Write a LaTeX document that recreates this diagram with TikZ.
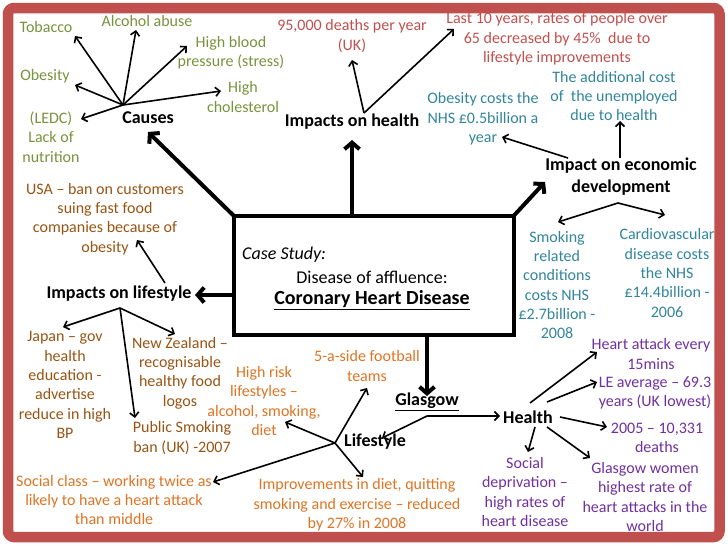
\documentclass[tikz,border=0pt]{standalone}
\usepackage{fontspec}
\setmainfont{Carlito}
\usetikzlibrary{arrows.meta}
\definecolor{framered}{HTML}{C0504D}
\definecolor{cgreen}{HTML}{77933C}
\definecolor{cred}{HTML}{C0504D}
\definecolor{cteal}{HTML}{31859C}
\definecolor{cbrown}{HTML}{985413}
\definecolor{corange}{HTML}{DE7424}
\definecolor{cpurple}{HTML}{7030A0}
\begin{document}
\begin{tikzpicture}[x=1pt,y=-1pt,
  txt/.style={align=center, inner sep=0pt, font=\fontsize{16}{19.3}\selectfont},
  hd/.style={txt, font=\fontsize{18}{22}\selectfont\bfseries},
  thin/.style={line width=1.6pt, -{Straight Barb[length=4.5pt,width=9pt]}},
  thick/.style={line width=4pt, -{Straight Barb[length=6.5pt,width=15pt]}}]
\useasboundingbox (0,0) rectangle (728,546);

% central box
\node[draw, line width=4pt, outer sep=0pt, inner sep=0pt, minimum width=280.5pt, minimum height=119pt] (cs) at (373.75,275) {};
\node[txt, anchor=west, font=\fontsize{18}{22}\selectfont\itshape] (cst) at (242,255) {Case Study:};
\node[txt, font=\fontsize{18}{22}\selectfont] (doa) at (372,277) {Disease of affluence:};
\node[txt, font=\fontsize{20}{24}\selectfont\bfseries] (chd) at (372,300) {\underline{Coronary Heart Disease}};

% causes
\begin{scope}[every node/.append style={text=cgreen}]
\node[txt] (tob) at (46,27) {Tobacco};
\node[txt] (alc) at (147,21) {Alcohol abuse};
\node[txt] (hbp) at (231,53) {High blood\\pressure (stress)};
\node[txt] (obs) at (45,76) {Obesity};
\node[txt] (chol) at (243,97) {High\\cholesterol};
\node[txt] (ledc) at (51,137) {(LEDC)\\Lack of\\nutrition};
\end{scope}
\node[hd] (causes) at (148,118) {Causes};

% impacts on health
\begin{scope}[every node/.append style={text=cred}]
\node[txt] (d95) at (352,36) {95,000 deaths per year\\(UK)};
\node[txt] (last) at (557,39) {Last 10 years, rates of people over\\65 decreased by 45\%\ \ due to\\lifestyle improvements};
\end{scope}
\node[hd] (ioh) at (352,122) {Impacts on health};

% economic
\begin{scope}[every node/.append style={text=cteal}]
\node[txt] (ocost) at (483,119) {Obesity costs the\\NHS £0.5billion a\\year};
\node[txt] (addc) at (614,96) {The additional cost\\of\ \ the unemployed\\due to health};
\node[txt] (smok) at (557,285) {Smoking\\related\\conditions\\costs NHS\\£2.7billion -\\2008};
\node[txt] (cardio) at (667,273) {Cardiovascular\\disease costs\\the NHS\\£14.4billion -\\2006};
\end{scope}
\node[hd] (ied) at (621,177) {Impact on economic\\development};

% impacts on lifestyle
\begin{scope}[every node/.append style={text=cbrown}]
\node[txt] (usa) at (105,219) {USA – ban on customers\\suing fast food\\companies because of\\obesity};
\node[txt] (japan) at (65,385) {Japan – gov\\health\\education -\\advertise\\reduce in high\\BP};
\node[txt] (nz) at (180,373) {New Zealand –\\recognisable\\healthy food\\logos};
\node[txt] (psb) at (182,438) {Public Smoking\\ban (UK) -2007};
\end{scope}
\node[hd] (iol) at (119,294) {Impacts on lifestyle};

% Glasgow lifestyle
\begin{scope}[every node/.append style={text=corange}]
\node[txt] (five) at (367,366) {5-a-side football\\teams};
\node[txt] (hrisk) at (264,401) {High risk\\lifestyles –\\alcohol, smoking,\\diet};
\node[txt] (impr) at (357,505) {Improvements in diet, quitting\\smoking and exercise – reduced\\by 27\% in 2008};
\node[txt] (social) at (114,500) {Social class – working twice as\\likely to have a heart attack\\than middle};
\end{scope}
\node[hd] (life) at (375,442) {Lifestyle};
\node[hd] (glas) at (427,402) {\underline{Glasgow}};

% Glasgow health
\begin{scope}[every node/.append style={text=cpurple}]
\node[txt] (hae) at (651,354) {Heart attack every\\15mins};
\node[txt] (le) at (655,393) {LE average – 69.3\\years (UK lowest)};
\node[txt] (d2005) at (657,438) {2005 – 10,331\\deaths};
\node[txt] (gw) at (645,497) {Glasgow women\\highest rate of\\heart attacks in the\\world};
\node[txt] (sd) at (525,492) {Social\\deprivation –\\high rates of\\heart disease};
\end{scope}
\node[hd] (health) at (528,417) {Health};

% coordinates: hubs and tips
\coordinate (hc) at (123,105);
\coordinate (ttob) at (75,36);
\coordinate (talc) at (136,30);
\coordinate (thbp) at (187,46);
\coordinate (tchol) at (221,91);
\coordinate (tobs) at (75,85);
\coordinate (tledc) at (81,119);
\coordinate (hh) at (364,113);
\coordinate (td95) at (352,60);
\coordinate (tlast) at (454,29);
\coordinate (he1) at (568,158);
\coordinate (tocost) at (502,137);
\coordinate (he2) at (620,158);
\coordinate (taddc) at (620,121);
\coordinate (he3) at (618,203);
\coordinate (tsmok) at (558,222);
\coordinate (tcardio) at (665,215);
\coordinate (hl1) at (165,283);
\coordinate (tusa) at (137,240);
\coordinate (hl2) at (120,308);
\coordinate (tjapan) at (63,327);
\coordinate (tnz) at (175,334);
\coordinate (tpsb) at (135,418);
\coordinate (hg) at (427,416);
\coordinate (thealth) at (500,416);
\coordinate (tlife) at (382,438);
\coordinate (hlf) at (335,443);
\coordinate (tfive) at (367,388);
\coordinate (thrisk) at (285,422);
\coordinate (timpr) at (363,477);
\coordinate (tsocial) at (213,482);
\coordinate (hh1) at (530,403);
\coordinate (thae) at (597,352);
\coordinate (hh2) at (547,402);
\coordinate (tle) at (597,382);
\coordinate (hh3) at (560,417);
\coordinate (td2005) at (607,427);
\coordinate (hh4) at (547,427);
\coordinate (tgw) at (590,458);
\coordinate (hh5) at (535,427);
\coordinate (tsd) at (528,452);
\coordinate (tcauses) at (148,132);
\coordinate (tioh) at (352,140);
\coordinate (tied) at (545,182);
\coordinate (tiol) at (195,295);
\coordinate (tglas) at (427,396);

% thick arrows
\draw[thick] (cs.north west) -- (tcauses);
\draw[thick] (cs.north -| tioh) -- (tioh);
\draw[thick] (cs.north east) -- (tied);
\draw[thick] (cs.west |- tiol) -- (tiol);
\draw[thick] (cs.south -| tglas) -- (tglas);

% thin arrows
\foreach \t in {ttob,talc,thbp,tchol,tobs,tledc} \draw[thin] (hc) -- (\t);
\draw[thin] (hh) -- (td95);
\draw[thin] (hh) -- (tlast);
\draw[thin] (he1) -- (tocost);
\draw[thin] (he2) -- (taddc);
\draw[thin] (he3) -- (tsmok);
\draw[thin] (he3) -- (tcardio);
\draw[thin] (hl1) -- (tusa);
\foreach \t in {tjapan,tnz,tpsb} \draw[thin] (hl2) -- (\t);
\draw[thin] (hg) -- (thealth);
\draw[thin] (hg) -- (tlife);
\foreach \t in {tfive,thrisk,timpr,tsocial} \draw[thin] (hlf) -- (\t);
\draw[thin] (hh1) -- (thae);
\draw[thin] (hh2) -- (tle);
\draw[thin] (hh3) -- (td2005);
\draw[thin] (hh4) -- (tgw);
\draw[thin] (hh5) -- (tsd);

% frame
\draw[line width=10.5pt, framered, rounded corners=6pt] (8,8) rectangle (719.5,537);
\end{tikzpicture}
\end{document}
